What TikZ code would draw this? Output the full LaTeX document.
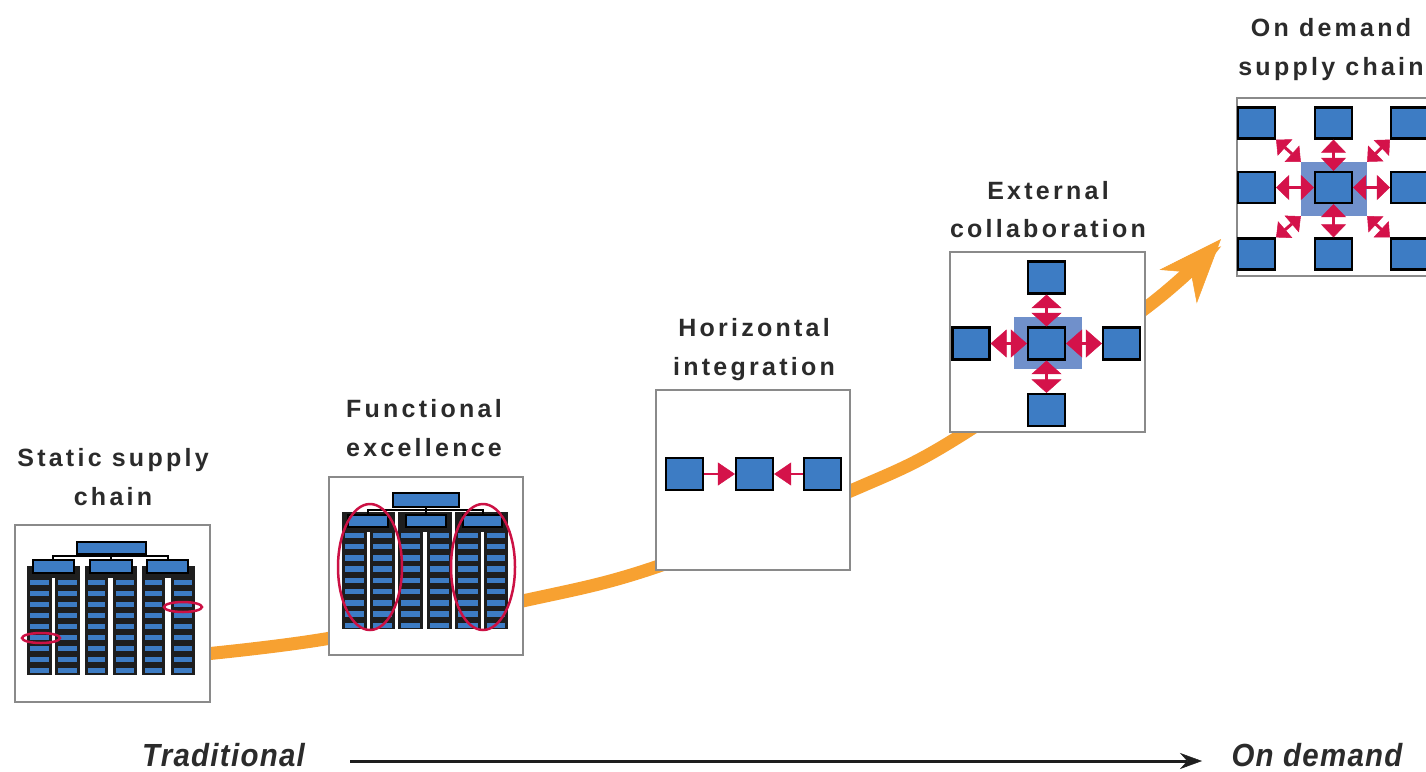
\documentclass[tikz,border=0pt]{standalone}
\usepackage{fontspec}
\setmainfont{Liberation Sans}
\newfontfamily\titlefont[LetterSpace=13]{Liberation Sans}
\newfontfamily\axisfont[FakeStretch=0.92,LetterSpace=4]{Liberation Sans}
\usetikzlibrary{arrows.meta}
\definecolor{bblue}{HTML}{3D7CC4}
\definecolor{hlblue}{HTML}{7090CB}
\definecolor{ared}{HTML}{D4124A}
\definecolor{ered}{HTML}{CC1144}
\definecolor{orng}{HTML}{F7A131}
\definecolor{frm}{HTML}{8A8A8A}
\definecolor{txt}{HTML}{2B2B2B}
\definecolor{colblk}{HTML}{1E1E1E}
\begin{document}
\begin{tikzpicture}[x=1pt,y=-1pt,
  frame/.style={draw=frm, line width=2pt, fill=white, inner sep=0},
  sq/.style={draw=black, fill=bblue, line width=2.2pt, inner sep=0, minimum width=37pt, minimum height=32pt},
  hl/.style={fill=hlblue, inner sep=0},
  bar/.style={fill=bblue},
  mbox/.style={fill=bblue, draw=black, line width=1.6pt},
  conn/.style={draw=black, line width=1.5pt},
  ell/.style={draw=ered, line width=2.5pt},
  title/.style={font=\titlefont\bfseries\fontsize{25}{38.5}\selectfont, text=txt, align=center, anchor=base, inner sep=0},
  ax/.style={font=\axisfont\bfseries\itshape\fontsize{32}{36}\selectfont, text=txt, anchor=base, inner sep=0},
  a1/.style={draw=ared, line width=2pt, -{Triangle[length=17pt,width=23pt,line width=0.5pt]}},
  a2h/.style={draw=ared, line width=3pt, {Triangle[length=16pt,width=28pt,line width=0.5pt]}-{Triangle[length=16pt,width=28pt,line width=0.5pt]}},
  a2v/.style={draw=ared, line width=3pt, {Triangle[length=13.5pt,width=30pt,line width=0.5pt]}-{Triangle[length=13.5pt,width=30pt,line width=0.5pt]}},
  a3/.style={draw=ared, line width=3pt, {Triangle[length=13pt,width=25pt,line width=0.5pt]}-{Triangle[length=13pt,width=25pt,line width=0.5pt]}},
  a3d/.style={draw=ared, line width=3pt, {Triangle[length=12pt,width=22pt,line width=0.5pt]}-{Triangle[length=12pt,width=22pt,line width=0.5pt]}},
  axline/.style={draw=colblk, line width=3pt, -{Stealth[length=22pt,width=16pt,line width=0.5pt]}}
]
\useasboundingbox (0,0) rectangle (1426,771);
\clip (0,0) rectangle (1426,771);
\fill[white] (0,0) rectangle (1426,771);

% orange growth curve
\coordinate (o1) at (200,654.5);
\coordinate (o2) at (325,639);
\coordinate (o3) at (527,600);
\coordinate (o4) at (656,567);
\coordinate (o5) at (855,489);
\coordinate (o6) at (960,436);
\coordinate (o7) at (1147,307);
\coordinate (o8) at (1221,239);
\draw[orng, line width=13pt, -{Stealth[length=64pt,width=50pt,inset=19pt,line width=0.5pt]}]
  plot[smooth, tension=0.55] coordinates {(o1) (o2) (o3) (o4) (o5) (o6) (o7) (o8)};

% frames
\node[frame, minimum width=195pt, minimum height=177pt] (b1) at (112.5,613.5) {};
\node[frame, minimum width=194pt, minimum height=178pt] (b2) at (426,566) {};
\node[frame, minimum width=194pt, minimum height=180pt] (b3) at (753,480) {};
\node[frame, minimum width=195pt, minimum height=180pt] (b4) at (1047.5,342) {};
\node[frame, minimum width=195pt, minimum height=178pt] (b5) at (1334.5,187) {};

% ---------- box 1: static supply chain ----------
\foreach \a/\b in {27/80, 85/137, 142/195} \fill[colblk] (\a,566) rectangle (\b,578);
\foreach \x/\w in {27/25, 55/25, 85/23, 113/24, 142/23, 171/24} {
  \fill[colblk] (\x,576) rectangle ++(\w,99);
  \foreach \k in {0,...,8} \fill[bar] (\x+3,579.5+11*\k) rectangle ++(\w-6,5.5);
}
\draw[conn] (53,561) -- (53,556) -- (168,556) -- (168,561);
\draw[conn] (111,554) -- (111,561);
\filldraw[mbox] (77,542) rectangle (146,554);
\filldraw[mbox] (33,560) rectangle (74,573);
\filldraw[mbox] (90,560) rectangle (132,573);
\filldraw[mbox] (147,560) rectangle (188,573);
\draw[ell] (41,638) ellipse [x radius=19pt, y radius=5pt];
\draw[ell] (183,607) ellipse [x radius=19pt, y radius=5pt];

% ---------- box 2: functional excellence ----------
\foreach \a/\b in {342/395, 398/452, 455/508} \fill[colblk] (\a,512) rectangle (\b,532);
\foreach \x/\w in {342/25, 370/25, 398/25, 427/25, 455/26, 484/24} {
  \fill[colblk] (\x,530) rectangle ++(\w,99);
  \foreach \k in {0,...,8} \fill[bar] (\x+3,532.5+11.25*\k) rectangle ++(\w-6,5.5);
}
\draw[conn] (368,515) -- (368,510) -- (483,510) -- (483,515);
\draw[conn] (426,507) -- (426,515);
\filldraw[mbox] (393,493) rectangle (459,507);
\filldraw[mbox] (348,515) rectangle (388,527);
\filldraw[mbox] (406,515) rectangle (446,527);
\filldraw[mbox] (463,515) rectangle (502,527);
\draw[ell] (370,567) ellipse [x radius=32pt, y radius=63pt];
\draw[ell] (483,567) ellipse [x radius=32pt, y radius=63pt];

% ---------- box 3: horizontal integration ----------
\node[sq] (h1) at (684.5,474) {};
\node[sq] (h2) at (754.5,474) {};
\node[sq] (h3) at (822.5,474) {};
\draw[a1] (h1.east) -- (h2.west);
\draw[a1] (h3.west) -- (h2.east);

% ---------- box 4: external collaboration ----------
\node[hl, minimum width=68pt, minimum height=52pt] (hl4) at (1048,343) {};
\node[sq] (e0) at (1046.5,343.5) {};
\node[sq] (eN) at (1046.5,277.5) {};
\node[sq] (eW) at (971,343.5) {};
\node[sq] (eE) at (1121.5,343.5) {};
\node[sq] (eS) at (1046.5,410) {};
\draw[a2v] (eN.south) -- (e0.north);
\draw[a2v] (eS.north) -- (e0.south);
\draw[a2h] (eW.east) -- (e0.west);
\draw[a2h] (eE.west) -- (e0.east);

% ---------- box 5: on demand supply chain ----------
\node[hl, minimum width=66pt, minimum height=54pt] (hl5) at (1334,189) {};
\node[sq, minimum height=31pt] (d0) at (1333.5,187.5) {};
\node[sq, minimum height=31pt] (dNW) at (1256.5,123) {};
\node[sq, minimum height=31pt] (dN) at (1333.5,123) {};
\node[sq, minimum height=31pt] (dNE) at (1409.5,123) {};
\node[sq, minimum height=31pt] (dW) at (1256.5,187.5) {};
\node[sq, minimum height=31pt] (dE) at (1409.5,187.5) {};
\node[sq, minimum height=31pt] (dSW) at (1256.5,254) {};
\node[sq, minimum height=31pt] (dS) at (1333.5,254) {};
\node[sq, minimum height=31pt] (dSE) at (1409.5,254) {};
\draw[a3] (dN.south) -- (d0.north);
\draw[a3] (dS.north) -- (d0.south);
\draw[a3] (dW.east) -- (d0.west);
\draw[a3] (dE.west) -- (d0.east);
\draw[a3d] (dNW.south east) -- (hl5.north west);
\draw[a3d] (dNE.south west) -- (hl5.north east);
\draw[a3d] (dSW.north east) -- (hl5.south west);
\draw[a3d] (dSE.north west) -- (hl5.south east);

% ---------- titles (anchor = baseline of last line) ----------
\node[title] (t1) at (113,505) {Static supply\\chain};
\node[title] (t2) at (424,456) {Functional\\excellence};
\node[title] (t3) at (754,375) {Horizontal\\integration};
\node[title] (t4) at (1048,237.5) {External\\collaboration};
\node[title] (t5) at (1331,75) {On demand\\supply chain};

% ---------- bottom axis ----------
\node[ax] (trad) at (223.5,766) {Traditional};
\node[ax] (ondem) at (1317,766) {On demand};
\coordinate (ax1) at (350,761);
\coordinate (ax2) at (1202,761);
\draw[axline] (ax1) -- (ax2);
\end{tikzpicture}
\end{document}
